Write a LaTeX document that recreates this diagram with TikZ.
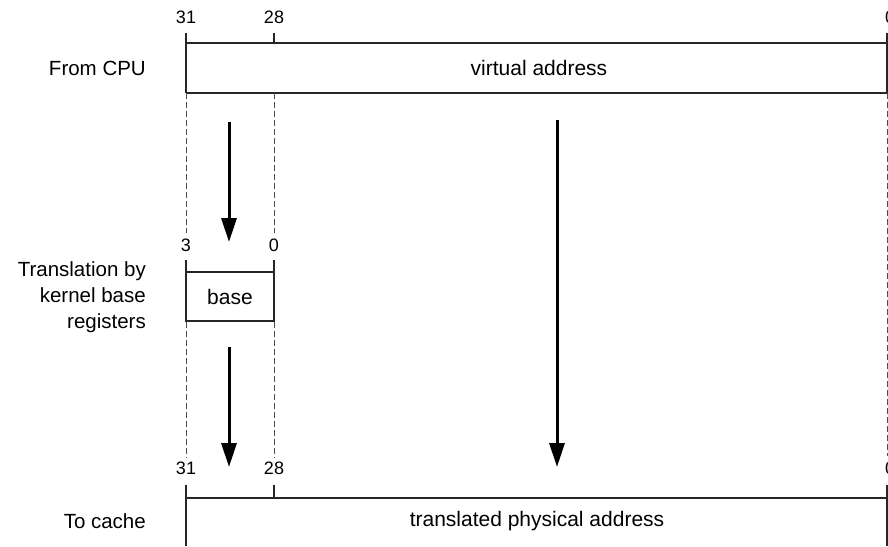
\documentclass[tikz,border=0pt]{standalone}
\usepackage{fontspec}
\setmainfont{Liberation Sans}
\usetikzlibrary{arrows.meta}
\begin{document}
\begin{tikzpicture}[x=1pt,y=-1pt,
  boxline/.style={line width=2.6pt,draw=black!85},
  guide/.style={draw=black!70,line width=0.9pt,dash pattern=on 6pt off 3pt},
  flow/.style={line width=3pt,-{Triangle[length=24pt,width=15pt]}},
  bit/.style={font=\fontsize{18}{20}\selectfont,inner sep=0pt},
  lbl/.style={font=\fontsize{20.5}{26}\selectfont,align=right,anchor=east,inner sep=0pt},
  ttl/.style={font=\fontsize{21}{24}\selectfont,inner sep=0pt}]
\useasboundingbox (0,0) rectangle (888,546);
% top register
\draw[boxline] (186,33) -- (186,93) (274,33) -- (274,43) (887,33) -- (887,93);
\draw[boxline] (186,43) -- (887,43) (186,93) -- (887,93);
\node[ttl] (va) at (539,68) {virtual address};
\node[bit] (t31) at (186,17) {31};
\node[bit] (t28) at (274,17) {28};
\node[bit] (t0) at (890,17) {0};
\node[lbl] (cpu) at (146,68) {From CPU};
% guides
\draw[guide] (186,93) -- (186,233) (274,93) -- (274,233);
\draw[guide] (186,322) -- (186,458) (274,322) -- (274,458);
\draw[guide] (887,93) -- (887,456);
% base register
\draw[boxline] (186,260) -- (186,322) (274,260) -- (274,322);
\draw[boxline] (186,272) -- (274,272) (186,321) -- (274,321);
\node[ttl] (base) at (230,297) {base};
\node[bit] (m3) at (186,245) {3};
\node[bit] (m0) at (274,245) {0};
\node[lbl] (tr) at (146,297) {Translation by\\kernel base\\registers};
% bottom register
\draw[boxline] (186,485) -- (186,546) (274,485) -- (274,498) (887,485) -- (887,546);
\draw[boxline] (186,498) -- (887,498);
\node[ttl] (pa) at (537,521) {translated physical address};
\node[bit] (b31) at (186,468) {31};
\node[bit] (b28) at (274,468) {28};
\node[bit] (b0) at (890,468) {0};
\node[lbl] (cache) at (146,521) {To cache};
% arrows
\coordinate (a1s) at (229,122); \coordinate (a1e) at (229,242);
\coordinate (a2s) at (229,347); \coordinate (a2e) at (229,467);
\coordinate (a3s) at (557,120); \coordinate (a3e) at (557,467);
\draw[flow] (a1s) -- (a1e);
\draw[flow] (a2s) -- (a2e);
\draw[flow] (a3s) -- (a3e);
\end{tikzpicture}
\end{document}
